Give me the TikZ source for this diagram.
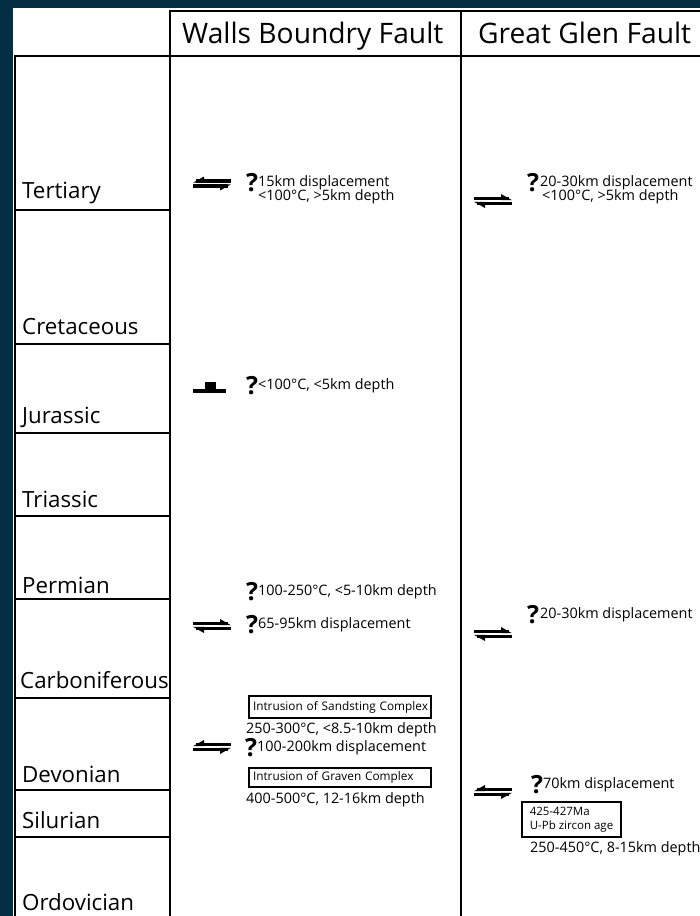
\documentclass[tikz,border=0pt]{standalone}
\usepackage{fontspec}
\setmainfont{Open Sans}
\definecolor{navy}{RGB}{4,46,68}
\begin{document}
\begin{tikzpicture}[x=1pt,y=-1pt,
  grid/.style={line width=2pt, black},
  period/.style={anchor=base west, font=\fontsize{22.3}{24}\selectfont, inner sep=0pt},
  head/.style={anchor=base west, font=\fontsize{28.2}{30}\selectfont, inner sep=0pt},
  note/.style={anchor=base west, font=\fontsize{14.4}{14}\selectfont, inner sep=0pt, text height=10.5pt, text depth=3pt},
  qm/.style={anchor=base west, font=\fontsize{25}{25}\selectfont\bfseries, inner sep=0pt},
  boxnote/.style={draw, line width=2pt, anchor=north west, font=\fontsize{11.8}{14}\selectfont, align=left, inner ysep=0pt},
  pics/sinis/.style={code={
    \fill (3,-4.2) rectangle (38,-0.8);
    \fill (0,-0.8) -- (11,-7) -- (11,-0.8) -- cycle;
    \fill (0,0.8) rectangle (35,4.2);
    \fill (38,0.8) -- (27,7) -- (27,0.8) -- cycle;
  }},
  pics/dext/.style={code={
    \fill (0,-4.2) rectangle (35,-0.8);
    \fill (38,-0.8) -- (27,-7) -- (27,-0.8) -- cycle;
    \fill (3,0.8) rectangle (38,4.2);
    \fill (0,0.8) -- (11,7) -- (11,0.8) -- cycle;
  }}
]
\useasboundingbox (0,0) rectangle (700,916);
\fill[navy] (0,0) rectangle (700,916);
\fill[white] (13,8) rectangle (700,916);

% grid
\draw[grid] (170,916) -- (170,11) -- (701,11);
\draw[grid] (461,11) -- (461,916);
\draw[grid] (15,916) -- (15,56) -- (701,56);
\foreach \yy in {210,344,433,516,599,698,790,837}
  \draw[grid] (15,\yy) -- (170,\yy);

% headers
\node[head] (h1) at (182,43) {Walls Boundry Fault};
\node[head] (h2) at (478,43) {Great Glen Fault};

% periods
\node[period] (p1) at (22,198) {Tertiary};
\node[period] (p2) at (22,334) {Cretaceous};
\node[period] (p3) at (22,423) {Jurassic};
\node[period] (p4) at (22,507) {Triassic};
\node[period] (p5) at (22,593) {Permian};
\node[period] (p6) at (20,688) {Carboniferous};
\node[period] (p7) at (22,782) {Devonian};
\node[period] (p8) at (22,828) {Silurian};
\node[period] (p9) at (22,910) {Ordovician};

% Walls Boundry Fault - Tertiary
\pic at (193,183.5) {sinis};
\node[qm] (q1) at (246,191) {?};
\node[note] (t1) at (258,186) {15km displacement};
\node[note] (t2) at (258,200) {<100°C, >5km depth};

% Great Glen Fault - Tertiary
\pic at (474,201) {dext};
\node[qm] (q2) at (527,191) {?};
\node[note] (t3) at (540,186) {20-30km displacement};
\node[note] (t4) at (542,200) {<100°C, >5km depth};

% WBF - Jurassic
\fill (193,388.5) rectangle (226,392.5);
\fill (205,382) rectangle (216,389);
\node[qm] (q3) at (246,394) {?};
\node[note] (t5) at (258,389) {<100°C, <5km depth};

% WBF - Permian / Carboniferous
\node[qm] (q4) at (246,600) {?};
\node[note] (t6) at (258,595) {100-250°C, <5-10km depth};
\pic at (193,626) {dext};
\node[qm] (q5) at (246,633) {?};
\node[note] (t7) at (258,628) {65-95km displacement};

% GGF - Permian
\pic at (474,634) {dext};
\node[qm] (q6) at (527,623) {?};
\node[note] (t8) at (540,618) {20-30km displacement};

% WBF - Devonian
\node[boxnote, minimum width=182pt, minimum height=22pt, text width=180pt, inner xsep=1pt] (b1) at (248,695) {\mbox{\hspace*{3pt}Intrusion of Sandsting Complex}};
\node[note] (t9) at (246,733) {250-300°C, <8.5-10km depth};
\pic at (193,747) {sinis};
\node[qm] (q7) at (245,756) {?};
\node[note] (t10) at (257,751) {100-200km displacement};
\node[boxnote, minimum width=182pt, minimum height=19pt, text width=174pt, inner xsep=4pt] (b2) at (248,767) {Intrusion of Graven Complex};
\node[note] (t11) at (246,803) {400-500°C, 12-16km depth};

% GGF - Devonian
\pic at (474,792) {sinis};
\node[qm] (q8) at (531,793) {?};
\node[note] (t12) at (543,788) {70km displacement};
\node[boxnote, font=\fontsize{11.5}{14}\selectfont, minimum width=99pt, minimum height=35pt, inner xsep=7pt] (b3) at (521,801) {425-427Ma\\U-Pb zircon age};
\node[note] (t13) at (530,852) {250-450°C, 8-15km depth};
\end{tikzpicture}
\end{document}
